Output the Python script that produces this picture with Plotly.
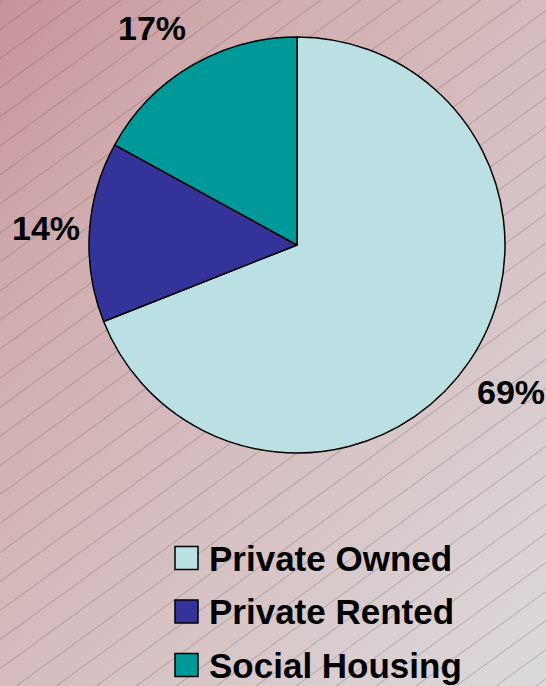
import base64
import math
import plotly.graph_objects as go

# ---- data ----
categories = ["Private Owned", "Private Rented", "Social Housing"]
shares = [69, 14, 17]
pct_labels = ["69%", "14%", "17%"]
colors = ["#BBE0E3", "#333399", "#009999"]

W, H = 546, 686
FONT = "Arial, Liberation Sans, sans-serif"


def px(x):
    return x / W


def py(y):
    return 1 - y / H


# background: diagonal gradient + thin upward-diagonal hatch
svg = f"""<svg xmlns='http://www.w3.org/2000/svg' width='{W}' height='{H}'>
<defs>
<linearGradient id='g' x1='0' y1='0' x2='1' y2='1'>
<stop offset='0' stop-color='#C7939A'/>
<stop offset='0.25' stop-color='#D1AEB0'/>
<stop offset='0.5' stop-color='#D5BBBD'/>
<stop offset='1' stop-color='#DCDADC'/>
</linearGradient>
<pattern id='p' patternUnits='userSpaceOnUse' width='20' height='23.5' patternTransform='rotate(-36)'>
<line x1='0' y1='0.5' x2='20' y2='0.5' stroke='#5f5050' stroke-opacity='0.32' stroke-width='0.9'/>
</pattern>
</defs>
<rect width='{W}' height='{H}' fill='url(#g)'/>
<rect width='{W}' height='{H}' fill='url(#p)'/>
</svg>"""
bg_src = "data:image/svg+xml;base64," + base64.b64encode(svg.encode()).decode()

# pie geometry (pixels)
CX, CY, R = 297, 245, 208

fig = go.Figure()
fig.add_trace(go.Pie(
    labels=categories,
    values=shares,
    marker=dict(colors=colors, line=dict(color="black", width=1.5)),
    sort=False,
    direction="clockwise",
    rotation=0,
    textinfo="none",
    showlegend=False,
    domain=dict(x=[px(CX - R), px(CX + R)], y=[py(CY + R), py(CY - R)]),
))

annotations = []
# percentage labels placed just outside each slice at its mid angle
total = sum(shares)
cum = 0
LAB_RX, LAB_RY, LAB_HALF_H = 215, 236, 14
for val, txt in zip(shares, pct_labels):
    mid = (cum + val / 2) / total * 2 * math.pi
    cum += val
    s, c = math.sin(mid), math.cos(mid)
    lx = CX + LAB_RX * s
    ly = CY - LAB_RY * c - LAB_HALF_H * max(-1.0, min(1.0, 3 * c))
    annotations.append(dict(
        x=px(lx), y=py(ly), xref="paper", yref="paper", text=txt,
        showarrow=False, xanchor="left" if s > 0 else "right", yanchor="middle",
        font=dict(family=FONT, size=34, color="black", weight="bold"),
    ))

# legend built from categories/colors
shapes = []
LEG_X0, LEG_Y0, LEG_DY, SQ = 175, 558, 53.5, 23
for i, (name, col) in enumerate(zip(categories, colors)):
    yc = LEG_Y0 + i * LEG_DY
    shapes.append(dict(
        type="rect", xref="paper", yref="paper",
        x0=px(LEG_X0), x1=px(LEG_X0 + SQ), y0=py(yc + SQ / 2), y1=py(yc - SQ / 2),
        fillcolor=col, line=dict(color="black", width=1.5),
    ))
    annotations.append(dict(
        x=px(LEG_X0 + SQ + 9), y=py(yc), xref="paper", yref="paper", text=name,
        showarrow=False, xanchor="left", yanchor="middle",
        font=dict(family=FONT, size=35, color="black", weight="bold"),
    ))

fig.update_layout(
    width=W, height=H,
    margin=dict(l=0, r=0, t=0, b=0),
    paper_bgcolor="#D4BABC",
    plot_bgcolor="rgba(0,0,0,0)",
    images=[dict(source=bg_src, xref="paper", yref="paper", x=0, y=1,
                 sizex=1, sizey=1, sizing="stretch", layer="below",
                 xanchor="left", yanchor="top")],
    annotations=annotations,
    shapes=shapes,
    showlegend=False,
)

fig.write_html(
    "out.html",
    config={"displayModeBar": False},
    post_script="document.body.style.margin='0';document.body.style.overflow='hidden';",
)
